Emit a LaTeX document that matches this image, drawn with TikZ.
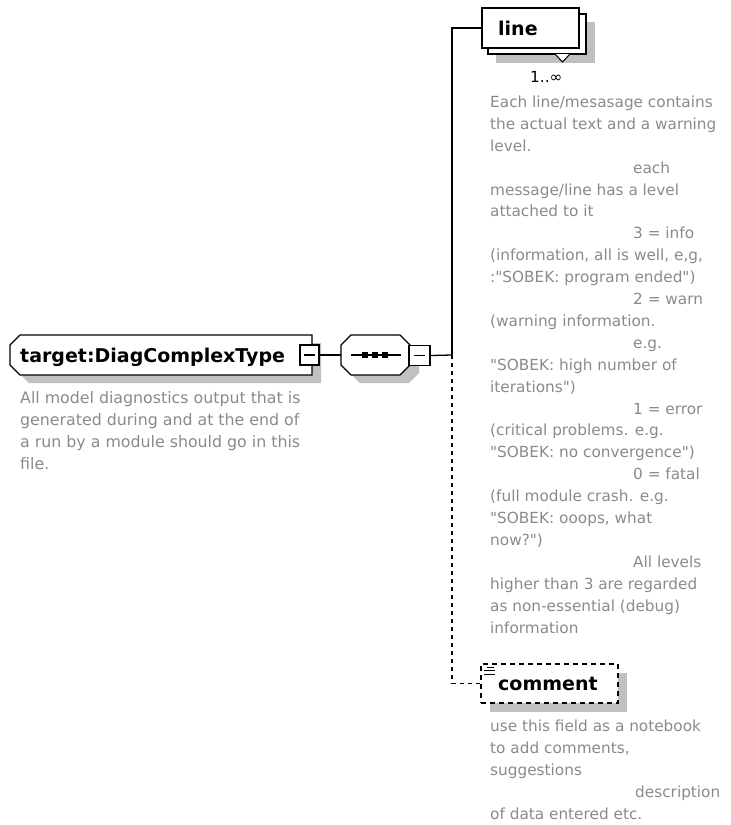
\documentclass[tikz,border=0pt]{standalone}
\usepackage{fontspec}
\setmainfont{DejaVu Sans}[Ligatures=TeXOff]
\newcommand{\descsize}{\fontsize{15.3pt}{21.9pt}\selectfont}
\newcommand{\titlesize}{\fontsize{19pt}{22pt}\selectfont\bfseries}
\definecolor{descgray}{HTML}{8A8A8A}
\definecolor{shadowgray}{HTML}{C0C0C0}
\begin{document}
\begin{tikzpicture}[x=1pt,y=-1pt,
  outline/.style={draw=black,line width=1.3pt,fill=white},
  dropshadow/.style={fill=shadowgray,draw=none},
  % multi-line notes are placed by the baseline of their last line
  desc/.style={font=\descsize,text=descgray,align=left,inner sep=0pt,anchor=base west},
  title/.style={font=\titlesize,inner sep=0pt,anchor=base west},
  slot/.style={draw=none,inner sep=0pt,minimum width=#1},
  minusbox/.style={outline,inner sep=0pt,minimum width=20pt,minimum height=20pt},
  conn/.style={draw=black,line width=1.3pt},
  optconn/.style={conn,dash pattern=on 4pt off 4pt},
  optbox/.style={draw=black,line width=1.3pt,fill=white,dash pattern=on 5pt off 4pt}]
\useasboundingbox (0,0) rectangle (731,825);

% ---------- complex type ----------
\node[slot=302pt,minimum height=40pt] (target) at (161,355) {};
\fill[dropshadow,shift={(9,8)}] (20,335) -- (312,335) -- (312,375) -- (20,375) -- (10,365) -- (10,345) -- cycle;
\path[outline] (20,335) -- (312,335) -- (312,375) -- (20,375) -- (10,365) -- (10,345) -- cycle;
\node[title] (targettitle) at (20,362.5) {target:DiagComplexType};
\node[minusbox,minimum width=19pt] (tminus) at (309.5,355) {};
\draw[line width=1.3pt] (304,355) -- (315,355);
\node[desc,font=\fontsize{15.8pt}{21.9pt}\selectfont] (targetdesc) at (20,469) {All model diagnostics output that is\\generated during and at the end of\\a run by a module should go in this\\file.};

% ---------- sequence compositor ----------
\node[slot=69pt,minimum height=40pt] (seq) at (375.5,355) {};
\fill[dropshadow,shift={(9,8)}] (351,335) -- (400,335) -- (410,345) -- (410,365) -- (400,375) -- (351,375) -- (341,365) -- (341,345) -- cycle;
\path[outline] (351,335) -- (400,335) -- (410,345) -- (410,365) -- (400,375) -- (351,375) -- (341,365) -- (341,345) -- cycle;
\draw[line width=1.3pt] (351,355) -- (401,355);
\foreach \cx in {365,375,385} \fill (\cx-2.7,352.3) rectangle (\cx+2.7,357.7);
\node[minusbox,minimum width=21pt] (sminus) at (419.5,355.5) {};
\draw[line width=1.3pt] (414,355.5) -- (425,355.5);

% ---------- element: line ----------
\fill[dropshadow] (496,22) rectangle (595,63);
\draw[outline] (488,14) rectangle (586,54);
\node[outline,inner sep=0pt,minimum width=97pt,minimum height=40pt] (line) at (530.5,28) {};
\node[title] (linetitle) at (498,35) {line};
\path[fill=white] (555,54) -- (570,54) -- (562.5,62) -- cycle;
\draw[line width=1pt] (555,54) -- (562.5,62) -- (570,54);
\node[font=\fontsize{15.3pt}{18pt}\selectfont,inner sep=0pt,anchor=base west] (card) at (530,82) {1..∞};
\node[desc] (linedesc) at (490,633) {Each line/mesasage contains\\
the actual text and a warning\\
level.\\
\hspace*{143pt}each\\
message/line has a level\\
attached to it\\
\hspace*{143pt}3 = info\\
(information, all is well, e,g,\\
:"SOBEK: program ended")\\
\hspace*{143pt}2 = warn\\
(warning information.\\
\hspace*{143pt}e.g.\\
"SOBEK: high number of\\
iterations")\\
\hspace*{143pt}1 = error\\
(critical problems. e.g.\\
"SOBEK: no convergence")\\
\hspace*{143pt}0 = fatal\\
(full module crash. e.g.\\
"SOBEK: ooops, what\\
now?")\\
\hspace*{143pt}All levels\\
higher than 3 are regarded\\
as non-essential (debug)\\
information};

% ---------- element: comment (optional) ----------
\fill[dropshadow] (490,673) rectangle (627,712);
\node[optbox,inner sep=0pt,minimum width=137pt,minimum height=39pt] (comment) at (549.5,683.5) {};
\draw[line width=1pt] (487,667) -- (494,667) (484,670.5) -- (495,670.5) (484,674) -- (495,674);
\node[title] (commenttitle) at (498,690) {comment};
\node[desc] (commentdesc) at (490,819.5) {use this field as a notebook\\
to add comments,\\
suggestions\\
\hspace*{145pt}description\\
of data entered etc.};

% ---------- connectors ----------
\coordinate (junction) at (452,355);
\draw[conn] (tminus.east) -- (seq.west);
\draw[conn] (sminus.east) -- (junction);
\draw[conn] (junction) |- (line.west);
\draw[optconn] (junction) |- (comment.west);
\end{tikzpicture}
\end{document}
